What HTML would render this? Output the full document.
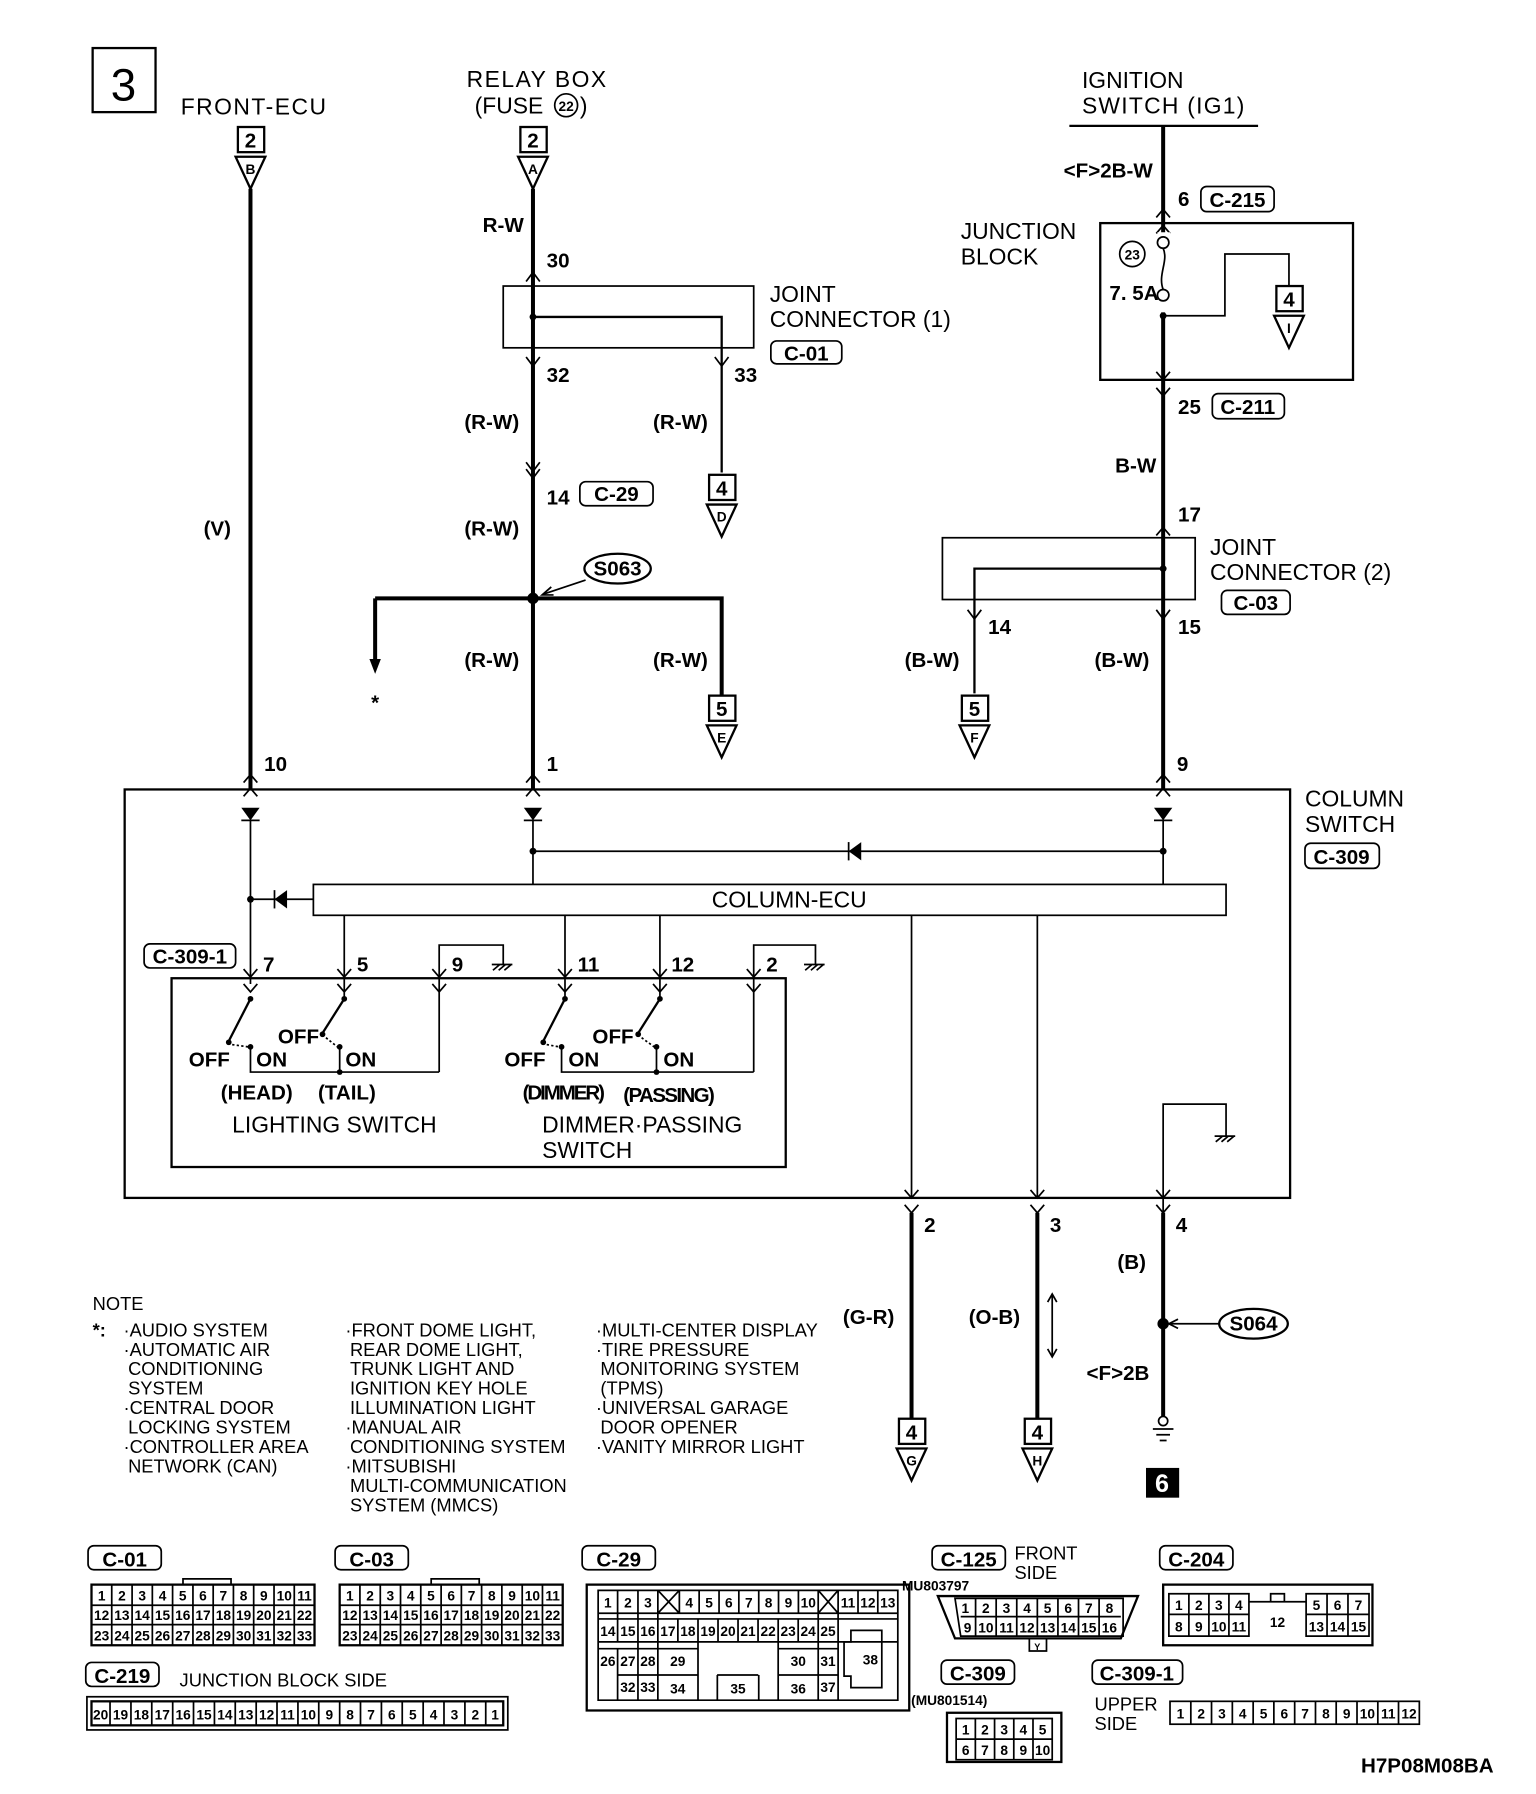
<!DOCTYPE html>
<html><head><meta charset="utf-8"><style>
html,body{margin:0;padding:0;background:#fff}
svg{display:block}
.t{font-family:"Liberation Sans",sans-serif;font-size:20px;fill:#000}
.b{font-family:"Liberation Sans",sans-serif;font-weight:bold;font-size:18px;fill:#000}
.n{font-family:"Liberation Sans",sans-serif;font-size:16px;fill:#000}
.s{font-family:"Liberation Sans",sans-serif;font-weight:bold;font-size:12px;fill:#000;text-anchor:middle}
.thin{stroke:#000;stroke-width:1.5;fill:none}
.med{stroke:#000;stroke-width:2;fill:none}
.thk{stroke:#000;stroke-width:3.5;fill:none}
</style></head><body>
<svg width="1536" height="1794" viewBox="0 0 1343 1568" preserveAspectRatio="none" xmlns="http://www.w3.org/2000/svg">
<rect x="0" y="0" width="1343" height="1568" fill="#fff"/>
<!-- header -->
<rect x="81" y="42" width="55" height="56" class="med"/>
<text x="108" y="88" font-family="Liberation Sans" font-size="40" text-anchor="middle">3</text>
<text x="158" y="100" class="t" textLength="127">FRONT-ECU</text>
<text x="408" y="76" class="t" textLength="122">RELAY BOX</text>
<text x="415" y="99" class="t">(FUSE</text><circle cx="495" cy="92" r="10" class="thin"/><text x="495" y="97" class="s">22</text><text x="507" y="99" class="t">)</text>
<text x="946" y="77" class="t">IGNITION</text>
<text x="946" y="99" class="t" textLength="142">SWITCH (IG1)</text>
<line x1="935" y1="110" x2="1100" y2="110" class="med"/>

<!-- FRONT-ECU wire -->
<rect x="208" y="111" width="23" height="22" class="med"/><text x="219" y="129" class="b" text-anchor="middle">2</text>
<polygon points="206,137 232,137 219,165" class="med"/><text x="219" y="152" class="s">B</text>
<line x1="219" y1="165" x2="219" y2="690" class="thk"/>
<text x="178" y="468" class="b">(V)</text>
<text x="231" y="674" class="b">10</text>

<!-- RELAY wire -->
<rect x="455" y="111" width="23" height="22" class="med"/><text x="466" y="129" class="b" text-anchor="middle">2</text>
<polygon points="453,137 479,137 466,165" class="med"/><text x="466" y="152" class="s">A</text>
<line x1="466" y1="165" x2="466" y2="690" class="thk"/>
<text x="422" y="203" class="b">R-W</text>
<text x="478" y="234" class="b">30</text>
<path d="M460,246 L466,238 L472,246" class="thin"/>
<rect x="440" y="250" width="219" height="54" class="thin"/>
<circle cx="466" cy="277" r="3"/>
<path d="M466,277 H631 V413" class="med"/>
<text x="673" y="264" class="t">JOINT</text>
<text x="673" y="286" class="t">CONNECTOR (1)</text>
<rect x="674" y="298" width="62" height="20" rx="5" class="thin"/><text x="705" y="315" class="b" text-anchor="middle">C-01</text>
<path d="M460,312 L466,320 L472,312 M625,312 L631,320 L637,312" class="thin"/>
<text x="478" y="334" class="b">32</text><text x="642" y="334" class="b">33</text>
<text x="406" y="375" class="b">(R-W)</text><text x="571" y="375" class="b">(R-W)</text>
<rect x="620" y="415" width="23" height="22" class="med"/><text x="631" y="433" class="b" text-anchor="middle">4</text>
<polygon points="618,441 644,441 631,469" class="med"/><text x="631" y="456" class="s">D</text>
<path d="M460,404 L466,412 L472,404 M460,410 L466,418 L472,410" class="thin"/>
<text x="478" y="441" class="b">14</text>
<rect x="507" y="421" width="64" height="21" rx="5" class="thin"/><text x="539" y="438" class="b" text-anchor="middle">C-29</text>
<text x="406" y="468" class="b">(R-W)</text>
<ellipse cx="540" cy="497" rx="29" ry="13" class="med"/><text x="540" y="503" class="b" text-anchor="middle">S063</text>
<line x1="512" y1="507" x2="476" y2="519" class="thin"/><path d="M482,513 L474,520 L484,520" class="thin"/>
<circle cx="466" cy="523" r="5"/>
<path d="M328,523 H631 V607" class="thk"/>
<line x1="328" y1="523" x2="328" y2="578" class="thk"/>
<polygon points="323,576 333,576 328,589"/>
<text x="328" y="620" class="b" text-anchor="middle">*</text>
<text x="406" y="583" class="b">(R-W)</text><text x="571" y="583" class="b">(R-W)</text>
<rect x="620" y="608" width="23" height="22" class="med"/><text x="631" y="626" class="b" text-anchor="middle">5</text>
<polygon points="618,634 644,634 631,662" class="med"/><text x="631" y="649" class="s">E</text>
<text x="478" y="674" class="b">1</text>

<!-- IGNITION wire -->
<line x1="1017" y1="110" x2="1017" y2="690" class="thk"/>
<text x="930" y="155" class="b">&lt;F&gt;2B-W</text>
<text x="1030" y="180" class="b">6</text>
<rect x="1050" y="163" width="64" height="22" rx="5" class="thin"/><text x="1082" y="181" class="b" text-anchor="middle">C-215</text>
<path d="M1011,190 L1017,183 L1023,190 M1011,204 L1017,197 L1023,204" class="thin"/>
<text x="840" y="209" class="t">JUNCTION</text><text x="840" y="231" class="t">BLOCK</text>
<rect x="962" y="195" width="221" height="137" class="med"/>
<rect x="1012" y="203" width="11" height="70" fill="#fff"/>
<circle cx="1017" cy="212" r="5" class="thin" fill="#fff"/>
<circle cx="1017" cy="258" r="5" class="thin" fill="#fff"/>
<path d="M1017,217 C1022,228 1012,240 1017,253" class="thin"/>
<circle cx="990" cy="222" r="11" class="thin"/><text x="990" y="227" class="s" font-size="13">23</text>
<text x="970" y="262" class="b" font-size="16">7. 5A</text>
<circle cx="1017" cy="276" r="3"/>
<path d="M1017,276 H1071 V222 H1127 V250" class="thin"/>
<rect x="1116" y="250" width="23" height="22" class="med"/><text x="1127" y="268" class="b" text-anchor="middle">4</text>
<polygon points="1114,276 1140,276 1127,304" class="med"/><text x="1127" y="291" class="s">I</text>
<path d="M1011,325 L1017,332 L1023,325 M1011,339 L1017,346 L1023,339" class="thin"/>
<text x="1030" y="362" class="b">25</text>
<rect x="1060" y="344" width="63" height="22" rx="5" class="thin"/><text x="1091" y="362" class="b" text-anchor="middle">C-211</text>
<text x="975" y="413" class="b">B-W</text>
<text x="1030" y="456" class="b">17</text>
<path d="M1011,468 L1017,461 L1023,468" class="thin"/>
<rect x="824" y="470" width="221" height="54" class="thin"/>
<circle cx="1017" cy="497" r="3"/>
<path d="M1017,497 H852 V606" class="med"/>
<text x="1058" y="485" class="t">JOINT</text><text x="1058" y="507" class="t">CONNECTOR (2)</text>
<rect x="1068" y="516" width="60" height="21" rx="5" class="thin"/><text x="1098" y="533" class="b" text-anchor="middle">C-03</text>
<path d="M846,533 L852,541 L858,533 M1011,533 L1017,541 L1023,533" class="thin"/>
<text x="864" y="554" class="b">14</text><text x="1030" y="554" class="b">15</text>
<text x="791" y="583" class="b">(B-W)</text><text x="957" y="583" class="b">(B-W)</text>
<rect x="841" y="608" width="23" height="22" class="med"/><text x="852" y="626" class="b" text-anchor="middle">5</text>
<polygon points="839,634 865,634 852,662" class="med"/><text x="852" y="649" class="s">F</text>
<text x="1029" y="674" class="b">9</text>

<!-- COLUMN SWITCH -->
<rect x="109" y="690" width="1019" height="357" class="med"/>
<text x="1141" y="705" class="t">COLUMN</text><text x="1141" y="727" class="t">SWITCH</text>
<rect x="1141" y="737" width="65" height="22" rx="5" class="thin"/><text x="1173" y="755" class="b" text-anchor="middle">C-309</text>
<path d="M213,684 L219,677 L225,684 M213,696 L219,689 L225,696 M460,684 L466,677 L472,684 M460,696 L466,689 L472,696 M1011,684 L1017,677 L1023,684 M1011,696 L1017,689 L1023,696" class="thin"/>
<polygon points="211,706 227,706 219,717"/><line x1="211" y1="717" x2="227" y2="717" class="thin"/>
<polygon points="458,706 474,706 466,717"/><line x1="458" y1="717" x2="474" y2="717" class="thin"/>
<polygon points="1009,706 1025,706 1017,717"/><line x1="1009" y1="717" x2="1025" y2="717" class="thin"/>
<line x1="219" y1="717" x2="219" y2="860" class="thin"/>
<line x1="466" y1="717" x2="466" y2="773" class="thin"/>
<line x1="1017" y1="717" x2="1017" y2="773" class="thin"/>
<line x1="466" y1="744" x2="1017" y2="744" class="thin"/>
<circle cx="466" cy="744" r="3"/><circle cx="1017" cy="744" r="3"/>
<polygon points="742,744 753,736 753,752"/><line x1="742" y1="736" x2="742" y2="752" class="thin"/>
<line x1="219" y1="786" x2="274" y2="786" class="thin"/><circle cx="219" cy="786" r="3"/>
<polygon points="240,786 251,778 251,794"/><line x1="240" y1="778" x2="240" y2="794" class="thin"/>
<rect x="274" y="773" width="798" height="27" class="thin"/>
<text x="690" y="793" class="t" text-anchor="middle">COLUMN-ECU</text>
<rect x="126" y="825" width="80" height="21" rx="5" class="thin"/><text x="166" y="842" class="b" text-anchor="middle">C-309-1</text>
<line x1="301" y1="800" x2="301" y2="873" class="thin"/>
<line x1="494" y1="800" x2="494" y2="873" class="thin"/>
<line x1="577" y1="800" x2="577" y2="873" class="thin"/>
<path d="M384,937 V826 H440 V843 M659,937 V826 H713 V843" class="thin"/>
<path d="M431,848 L437,843 M436,848 L442,843 M441,848 L447,843 M430,843 H448 M704,848 L710,843 M709,848 L715,843 M714,848 L720,843 M703,843 H721" class="thin"/>
<text x="230" y="849" class="b">7</text><text x="312" y="849" class="b">5</text><text x="395" y="849" class="b">9</text>
<text x="505" y="849" class="b">11</text><text x="587" y="849" class="b">12</text><text x="670" y="849" class="b">2</text>
<path d="M213,847 L219,854 L225,847 M213,860 L219,867 L225,860 M295,847 L301,854 L307,847 M295,860 L301,867 L307,860 M378,847 L384,854 L390,847 M378,860 L384,867 L390,860 M488,847 L494,854 L500,847 M488,860 L494,867 L500,860 M571,847 L577,854 L583,847 M571,860 L577,867 L583,860 M653,847 L659,854 L665,847 M653,860 L659,867 L665,860" class="thin"/>
<rect x="150" y="855" width="537" height="165" class="med"/>
<!-- switches -->
<g class="med">
<line x1="219" y1="873" x2="200" y2="910"/><line x1="301" y1="873" x2="282" y2="903"/>
<line x1="494" y1="873" x2="475" y2="910"/><line x1="577" y1="873" x2="558" y2="903"/>
</g>
<g>
<circle cx="219" cy="873" r="2.5"/><circle cx="200" cy="911" r="2.5"/><circle cx="219" cy="915" r="2.5"/>
<circle cx="301" cy="873" r="2.5"/><circle cx="282" cy="904" r="2.5"/><circle cx="297" cy="915" r="2.5"/>
<circle cx="494" cy="873" r="2.5"/><circle cx="475" cy="911" r="2.5"/><circle cx="491" cy="915" r="2.5"/>
<circle cx="577" cy="873" r="2.5"/><circle cx="558" cy="904" r="2.5"/><circle cx="574" cy="915" r="2.5"/>
<circle cx="297" cy="937" r="2.5"/><circle cx="574" cy="937" r="2.5"/>
</g>
<path d="M203,913 L217,915 M285,907 L295,915 M478,913 L489,915 M561,907 L572,915" class="thin" stroke-dasharray="2,2"/>
<path d="M219,915 V937 H384 M297,915 V937 M491,915 V937 H659 M574,915 V937" class="thin"/>
<text x="165" y="932" class="b" font-size="16">OFF</text><text x="224" y="932" class="b" font-size="16">ON</text>
<text x="243" y="912" class="b" font-size="16">OFF</text><text x="302" y="932" class="b" font-size="16">ON</text>
<text x="441" y="932" class="b" font-size="16">OFF</text><text x="497" y="932" class="b" font-size="16">ON</text>
<text x="518" y="912" class="b" font-size="16">OFF</text><text x="580" y="932" class="b" font-size="16">ON</text>
<text x="193" y="961" class="b" font-size="16">(HEAD)</text><text x="278" y="961" class="b" font-size="16">(TAIL)</text>
<text x="457" y="961" class="b" font-size="16" textLength="72">(DIMMER)</text><text x="545" y="963" class="b" font-size="16" textLength="80">(PASSING)</text>
<text x="203" y="990" class="t">LIGHTING SWITCH</text>
<text x="474" y="990" class="t">DIMMER·PASSING</text><text x="474" y="1012" class="t">SWITCH</text>
<path d="M1017,1060 V965 H1072 V993" class="thin"/>
<path d="M1063,998 L1069,993 M1068,998 L1074,993 M1073,998 L1079,993 M1062,993 H1080" class="thin"/>
<line x1="797" y1="800" x2="797" y2="1047" class="thin"/>
<line x1="907" y1="800" x2="907" y2="1047" class="thin"/>
<path d="M791,1040 L797,1047 L803,1040 M791,1053 L797,1060 L803,1053 M901,1040 L907,1047 L913,1040 M901,1053 L907,1060 L913,1053 M1011,1040 L1017,1047 L1023,1040 M1011,1053 L1017,1060 L1023,1053" class="thin"/>

<!-- bottom wires -->
<line x1="797" y1="1060" x2="797" y2="1240" class="thk"/>
<line x1="907" y1="1060" x2="907" y2="1240" class="thk"/>
<line x1="1017" y1="1060" x2="1017" y2="1238" class="thk"/>
<text x="808" y="1077" class="b">2</text><text x="918" y="1077" class="b">3</text><text x="1028" y="1077" class="b">4</text>
<text x="737" y="1157" class="b">(G-R)</text><text x="847" y="1157" class="b">(O-B)</text><text x="977" y="1109" class="b">(B)</text>
<path d="M920,1132 V1185 M916,1138 L920,1131 L924,1138 M916,1179 L920,1186 L924,1179" class="thin"/>
<circle cx="1017" cy="1157" r="5"/>
<line x1="1022" y1="1157" x2="1066" y2="1157" class="thin"/><path d="M1030,1153 L1022,1157 L1030,1161" class="thin"/>
<ellipse cx="1096" cy="1157" rx="30" ry="13" class="med"/><text x="1096" y="1163" class="b" text-anchor="middle">S064</text>
<text x="950" y="1206" class="b">&lt;F&gt;2B</text>
<circle cx="1017" cy="1242" r="4" class="thin"/>
<path d="M1008,1249 H1026 M1011,1254 H1023 M1014,1259 H1020" class="thin"/>
<rect x="1002" y="1283" width="29" height="26" fill="#000"/><text x="1016" y="1304" font-family="Liberation Sans" font-weight="bold" font-size="22" fill="#fff" text-anchor="middle">6</text>
<rect x="786" y="1240" width="23" height="22" class="med"/><text x="797" y="1258" class="b" text-anchor="middle">4</text>
<polygon points="784,1266 810,1266 797,1294" class="med"/><text x="797" y="1281" class="s">G</text>
<rect x="896" y="1240" width="23" height="22" class="med"/><text x="907" y="1258" class="b" text-anchor="middle">4</text>
<polygon points="894,1266 920,1266 907,1294" class="med"/><text x="907" y="1281" class="s">H</text>

<!-- NOTE -->
<g class="n">
<text x="81" y="1145">NOTE</text>
<text x="81" y="1168" font-weight="bold">*:</text>
<text x="108" y="1168">·AUDIO SYSTEM</text>
<text x="108" y="1185">·AUTOMATIC AIR</text>
<text x="112" y="1202">CONDITIONING</text>
<text x="112" y="1219">SYSTEM</text>
<text x="108" y="1236">·CENTRAL DOOR</text>
<text x="112" y="1253">LOCKING SYSTEM</text>
<text x="108" y="1270">·CONTROLLER AREA</text>
<text x="112" y="1287">NETWORK (CAN)</text>
<text x="302" y="1168">·FRONT DOME LIGHT,</text>
<text x="306" y="1185">REAR DOME LIGHT,</text>
<text x="306" y="1202">TRUNK LIGHT AND</text>
<text x="306" y="1219">IGNITION KEY HOLE</text>
<text x="306" y="1236">ILLUMINATION LIGHT</text>
<text x="302" y="1253">·MANUAL AIR</text>
<text x="306" y="1270">CONDITIONING SYSTEM</text>
<text x="302" y="1287">·MITSUBISHI</text>
<text x="306" y="1304">MULTI-COMMUNICATION</text>
<text x="306" y="1321">SYSTEM (MMCS)</text>
<text x="521" y="1168">·MULTI-CENTER DISPLAY</text>
<text x="521" y="1185">·TIRE PRESSURE</text>
<text x="525" y="1202">MONITORING SYSTEM</text>
<text x="525" y="1219">(TPMS)</text>
<text x="521" y="1236">·UNIVERSAL GARAGE</text>
<text x="525" y="1253">DOOR OPENER</text>
<text x="521" y="1270">·VANITY MIRROR LIGHT</text>
</g>

<!-- connector labels -->
<g class="thin">
<rect x="77" y="1351" width="64" height="21" rx="5"/><rect x="293" y="1351" width="64" height="21" rx="5"/>
<rect x="509" y="1351" width="64" height="21" rx="5"/><rect x="815" y="1351" width="64" height="21" rx="5"/>
<rect x="1014" y="1351" width="64" height="21" rx="5"/><rect x="75" y="1453" width="64" height="21" rx="5"/>
<rect x="823" y="1451" width="64" height="21" rx="5"/><rect x="955" y="1451" width="79" height="21" rx="5"/>
</g>
<g class="b" text-anchor="middle">
<text x="109" y="1369">C-01</text><text x="325" y="1369">C-03</text><text x="541" y="1369">C-29</text>
<text x="847" y="1369">C-125</text><text x="1046" y="1369">C-204</text><text x="107" y="1471">C-219</text>
<text x="855" y="1469">C-309</text><text x="994" y="1469">C-309-1</text>
</g>
<text x="887" y="1363" class="n">FRONT</text><text x="887" y="1380" class="n">SIDE</text>
<text x="818" y="1390" class="s" text-anchor="start" font-size="11">MU803797</text>
<text x="157" y="1474" class="n">JUNCTION BLOCK SIDE</text>
<text x="830" y="1490" class="s" text-anchor="start" font-size="11">(MU801514)</text>
<text x="957" y="1495" class="n">UPPER</text><text x="957" y="1512" class="n">SIDE</text>
<text x="1190" y="1549" class="b" font-size="14">H7P08M08BA</text>

<!-- C-01 grid -->
<path d="M160,1385 V1380 H202 V1385" class="thin"/>
<rect x="80" y="1385" width="195" height="53" class="med"/>
<path d="M80,1403 H275 M80,1420 H275 M97.7,1385 V1438 M115.5,1385 V1438 M133.2,1385 V1438 M150.9,1385 V1438 M168.7,1385 V1438 M186.4,1385 V1438 M204.1,1385 V1438 M221.8,1385 V1438 M239.6,1385 V1438 M257.3,1385 V1438" class="thin"/>
<!-- C-03 grid -->
<path d="M377,1385 V1380 H419 V1385" class="thin"/>
<rect x="297" y="1385" width="195" height="53" class="med"/>
<path d="M297,1403 H492 M297,1420 H492 M314.7,1385 V1438 M332.5,1385 V1438 M350.2,1385 V1438 M367.9,1385 V1438 M385.7,1385 V1438 M403.4,1385 V1438 M421.1,1385 V1438 M438.8,1385 V1438 M456.6,1385 V1438 M474.3,1385 V1438" class="thin"/>
<g class="s">
<text x="88.9" y="1399">1</text><text x="106.6" y="1399">2</text><text x="124.3" y="1399">3</text><text x="142.1" y="1399">4</text><text x="159.8" y="1399">5</text><text x="177.5" y="1399">6</text><text x="195.3" y="1399">7</text><text x="213" y="1399">8</text><text x="230.7" y="1399">9</text><text x="248.5" y="1399">10</text><text x="266.2" y="1399">11</text>
<text x="88.9" y="1416">12</text><text x="106.6" y="1416">13</text><text x="124.3" y="1416">14</text><text x="142.1" y="1416">15</text><text x="159.8" y="1416">16</text><text x="177.5" y="1416">17</text><text x="195.3" y="1416">18</text><text x="213" y="1416">19</text><text x="230.7" y="1416">20</text><text x="248.5" y="1416">21</text><text x="266.2" y="1416">22</text>
<text x="88.9" y="1434">23</text><text x="106.6" y="1434">24</text><text x="124.3" y="1434">25</text><text x="142.1" y="1434">26</text><text x="159.8" y="1434">27</text><text x="177.5" y="1434">28</text><text x="195.3" y="1434">29</text><text x="213" y="1434">30</text><text x="230.7" y="1434">31</text><text x="248.5" y="1434">32</text><text x="266.2" y="1434">33</text>
<text x="305.9" y="1399">1</text><text x="323.6" y="1399">2</text><text x="341.3" y="1399">3</text><text x="359.1" y="1399">4</text><text x="376.8" y="1399">5</text><text x="394.5" y="1399">6</text><text x="412.3" y="1399">7</text><text x="430" y="1399">8</text><text x="447.7" y="1399">9</text><text x="465.5" y="1399">10</text><text x="483.2" y="1399">11</text>
<text x="305.9" y="1416">12</text><text x="323.6" y="1416">13</text><text x="341.3" y="1416">14</text><text x="359.1" y="1416">15</text><text x="376.8" y="1416">16</text><text x="394.5" y="1416">17</text><text x="412.3" y="1416">18</text><text x="430" y="1416">19</text><text x="447.7" y="1416">20</text><text x="465.5" y="1416">21</text><text x="483.2" y="1416">22</text>
<text x="305.9" y="1434">23</text><text x="323.6" y="1434">24</text><text x="341.3" y="1434">25</text><text x="359.1" y="1434">26</text><text x="376.8" y="1434">27</text><text x="394.5" y="1434">28</text><text x="412.3" y="1434">29</text><text x="430" y="1434">30</text><text x="447.7" y="1434">31</text><text x="465.5" y="1434">32</text><text x="483.2" y="1434">33</text>
</g>
<!-- C-219 -->
<rect x="76" y="1483" width="368" height="29" class="thin"/>
<rect x="80" y="1487" width="360" height="21" class="med"/>
<path d="M96.2,1487 V1508 M114.5,1487 V1508 M132.7,1487 V1508 M151,1487 V1508 M169.2,1487 V1508 M187.5,1487 V1508 M205.7,1487 V1508 M224,1487 V1508 M242.2,1487 V1508 M260.5,1487 V1508 M278.7,1487 V1508 M297,1487 V1508 M315.2,1487 V1508 M333.5,1487 V1508 M351.7,1487 V1508 M370,1487 V1508 M388.2,1487 V1508 M406.5,1487 V1508 M424.7,1487 V1508" class="thin"/>
<g class="s">
<text x="88" y="1503">20</text><text x="105.4" y="1503">19</text><text x="123.6" y="1503">18</text><text x="141.9" y="1503">17</text><text x="160.1" y="1503">16</text><text x="178.4" y="1503">15</text><text x="196.6" y="1503">14</text><text x="214.9" y="1503">13</text><text x="233.1" y="1503">12</text><text x="251.4" y="1503">11</text><text x="269.6" y="1503">10</text><text x="287.9" y="1503">9</text><text x="306.1" y="1503">8</text><text x="324.4" y="1503">7</text><text x="342.6" y="1503">6</text><text x="360.9" y="1503">5</text><text x="379.1" y="1503">4</text><text x="397.4" y="1503">3</text><text x="415.6" y="1503">2</text><text x="432.9" y="1503">1</text>
</g>
<!-- C-29 -->
<rect x="513" y="1385" width="282" height="110" class="med"/>
<path d="M523,1390 H785 V1486 H523 Z" class="thin"/>
<path d="M523,1410 H785 M523,1415 H785 M523,1435 H785 M523,1441 H610 M680,1441 H733 M540,1464 H610 M627,1464 H663 M680,1464 H733 M540,1486 V1441 M540,1390 V1435 M557.8,1390 V1486 M575.2,1390 V1486 M594,1390 V1410 M611.3,1390 V1410 M628.7,1390 V1410 M646,1390 V1410 M663.4,1390 V1410 M680.7,1390 V1410 M698.1,1390 V1410 M715.4,1390 V1486 M732.8,1390 V1486 M750.2,1390 V1410 M767.5,1390 V1410 M592.7,1415 V1435 M610.3,1415 V1486 M627.8,1415 V1435 M645.3,1415 V1435 M662.8,1415 V1435 M680.4,1415 V1486 M697.9,1415 V1435 M627.2,1486 V1464 M663.4,1464 V1486 M575.2,1390 L594,1410 M594,1390 L575.2,1410 M715.4,1390 L732.8,1410 M732.8,1390 L715.4,1410" class="thin"/>
<path d="M744,1425 H771 V1475 H744 V1465 H738 V1435 H744 Z" class="thin"/>
<g class="s">
<text x="531.5" y="1405">1</text><text x="549" y="1405">2</text><text x="566.5" y="1405">3</text><text x="602.6" y="1405">4</text><text x="620" y="1405">5</text><text x="637.3" y="1405">6</text><text x="654.7" y="1405">7</text><text x="672" y="1405">8</text><text x="689.4" y="1405">9</text><text x="706.7" y="1405">10</text><text x="741.5" y="1405">11</text><text x="758.8" y="1405">12</text><text x="776.2" y="1405">13</text>
<text x="531.5" y="1430">14</text><text x="549" y="1430">15</text><text x="566.5" y="1430">16</text><text x="584" y="1430">17</text><text x="601.5" y="1430">18</text><text x="619" y="1430">19</text><text x="636.5" y="1430">20</text><text x="654" y="1430">21</text><text x="671.6" y="1430">22</text><text x="689.1" y="1430">23</text><text x="706.6" y="1430">24</text><text x="724" y="1430">25</text>
<text x="531.5" y="1456">26</text><text x="549" y="1456">27</text><text x="566.5" y="1456">28</text><text x="592.6" y="1456">29</text><text x="698" y="1456">30</text><text x="724" y="1456">31</text><text x="761" y="1455">38</text>
<text x="549" y="1479">32</text><text x="566.5" y="1479">33</text><text x="592.6" y="1480">34</text><text x="645.3" y="1480">35</text><text x="698" y="1480">36</text><text x="724" y="1479">37</text>
</g>
<!-- C-125 -->
<polygon points="820,1395 995,1395 980,1432 835,1432" class="med"/>
<path d="M835,1397 H982 V1430 H840 Z M840,1413 H980 M853,1397 V1430 M871,1397 V1430 M889,1397 V1430 M907,1397 V1430 M925,1397 V1430 M943,1397 V1430 M961,1397 V1430 M900,1432 V1443 H915 V1432" class="thin"/>
<g class="s">
<text x="844" y="1410">1</text><text x="862" y="1410">2</text><text x="880" y="1410">3</text><text x="898" y="1410">4</text><text x="916" y="1410">5</text><text x="934" y="1410">6</text><text x="952" y="1410">7</text><text x="970" y="1410">8</text>
<text x="846" y="1427">9</text><text x="862" y="1427">10</text><text x="880" y="1427">11</text><text x="898" y="1427">12</text><text x="916" y="1427">13</text><text x="934" y="1427">14</text><text x="952" y="1427">15</text><text x="970" y="1427">16</text>
<text x="907" y="1442" font-size="8">Y</text>
</g>
<!-- C-204 -->
<rect x="1017" y="1385" width="183" height="53" class="med"/>
<path d="M1022,1393 H1092 V1430 H1022 Z M1022,1411 H1092 M1039.5,1393 V1430 M1057,1393 V1430 M1074.5,1393 V1430 M1142,1393 H1197 V1430 H1142 Z M1142,1411 H1197 M1160.3,1393 V1430 M1178.6,1393 V1430 M1092,1400 H1142 M1111,1400 V1393 H1123 V1400" class="thin"/>
<g class="s">
<text x="1030.7" y="1407">1</text><text x="1048.2" y="1407">2</text><text x="1065.7" y="1407">3</text><text x="1083.2" y="1407">4</text><text x="1151" y="1407">5</text><text x="1169.5" y="1407">6</text><text x="1187.8" y="1407">7</text>
<text x="1030.7" y="1426">8</text><text x="1048.2" y="1426">9</text><text x="1065.7" y="1426">10</text><text x="1083.2" y="1426">11</text><text x="1117" y="1422">12</text><text x="1151" y="1426">13</text><text x="1169.5" y="1426">14</text><text x="1187.8" y="1426">15</text>
</g>
<!-- C-309 -->
<rect x="828" y="1497" width="100" height="43" class="med"/>
<path d="M836,1502 H920 V1538 H836 Z M836,1520 H920 M852.8,1502 V1538 M869.6,1502 V1538 M886.4,1502 V1538 M903.2,1502 V1538" class="thin"/>
<g class="s">
<text x="844.4" y="1516">1</text><text x="861.2" y="1516">2</text><text x="878" y="1516">3</text><text x="894.8" y="1516">4</text><text x="911.6" y="1516">5</text>
<text x="844.4" y="1534">6</text><text x="861.2" y="1534">7</text><text x="878" y="1534">8</text><text x="894.8" y="1534">9</text><text x="911.6" y="1534">10</text>
</g>
<!-- C-309-1 -->
<rect x="1023" y="1487" width="218" height="20" class="thin"/>
<path d="M1041.2,1487 V1507 M1059.3,1487 V1507 M1077.5,1487 V1507 M1095.7,1487 V1507 M1113.8,1487 V1507 M1132,1487 V1507 M1150.2,1487 V1507 M1168.3,1487 V1507 M1186.5,1487 V1507 M1204.7,1487 V1507 M1222.8,1487 V1507" class="thin"/>
<g class="s">
<text x="1032.1" y="1502">1</text><text x="1050.3" y="1502">2</text><text x="1068.4" y="1502">3</text><text x="1086.6" y="1502">4</text><text x="1104.8" y="1502">5</text><text x="1122.9" y="1502">6</text><text x="1141.1" y="1502">7</text><text x="1159.3" y="1502">8</text><text x="1177.5" y="1502">9</text><text x="1195.6" y="1502">10</text><text x="1213.8" y="1502">11</text><text x="1232" y="1502">12</text>
</g>
</svg>
</body></html>
